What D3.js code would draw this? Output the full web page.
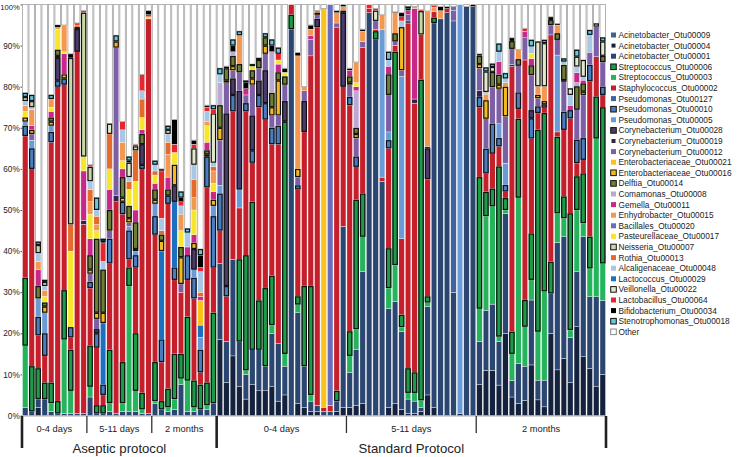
<!DOCTYPE html>
<html><head><meta charset="utf-8">
<script src="https://cdn.jsdelivr.net/npm/d3@7"></script>
<style>body{margin:0;background:#fff}svg{display:block;font-family:"Liberation Sans",Arial,sans-serif}</style>
</head><body><svg id="c" width="745" height="457"></svg>
<script>
// ---- categories ----
const subgroups = ["0-4 days","5-11 days","2 months","0-4 days","5-11 days","2 months"];
const subgroupSizes = [10,10,10,20,20,20];
const protocols = ["Aseptic protocol","Standard Protocol"];
const protocolSizes = [30,60];
const yTicks = [0,10,20,30,40,50,60,70,80,90,100];

// ---- series values (% of reads, 90 samples) ----
const acin09 = [0,0,0,0,0,0,0,0,0,0, 0,0,0,0,0,0,0,0,0,0, 0,0,0,0,0,0,0,0,0,0,
 0,0,0,0,0,0,0,0,0,0, 0,0,0,0,0,0,0,0,0,0, 0,0,0,0,0,0,0,0,0,0,
 0,0,0,0,0,0,0,0,0,0, 0,0,0,0,0,0,0,0,0,0, 0,0,0,0,0,0,0,0,0,0];
const acin04 = [0,0,2,0,0,0,0,0,0,0, 0,0,0,0,0,0,0,0,0,0, 0,0,0,0,0,0,0,0,0,0,
 18.5,8,14.5,7,4,7.5,6,6,7,3.5, 5,0,3,2,1,1,0,0,1,2,
 2,2.5,3,0,0,0,2,3,1.5,0.5, 0.5,1,5,2,0,0,0,0.5,0,0,
 7.5,11,11,7.4,20,4.5,3,3.7,12.3,3.8, 2.1,20,11.1,13.9,8,21.6,14.3,11.5,7,10];
const acin01 = [2,1,2,4,1,0.5,0.5,0.5,0.5,0.5, 4.5,0.5,0.5,1,0.5,1,1,1,0.5,0.5,
 3,1.5,1,1.5,7.5,1,1,1.5,1.5,3,
 18.5,10,23.5,11,6,8.5,10,6,13,14, 7,94,22,10,2.5,1.5,1,1,2.5,44,
 8.5,13.5,32,98,91.5,57,24,24.7,19,3.5, 3,1,21.5,93.5,96.5,98,30,0,99.5,99.5,
 10.5,14.6,16.1,10.6,29.2,4,9.7,8.3,15.8,4.8, 6.5,9.7,31,29.6,11,13.4,29.2,17.4,21.9,18];
const strep06 = [16.5,11,7.5,4,5,3,12,10,0,0, 10,2,2,13,0,10,4.5,14,4,0,
 9.5,2,4.5,11,6,15.5,6.5,6,5.5,22,
 0,0,0,20,28,36,12,19,12,0, 56.5,3.5,2,19.5,26.5,0,0,0,2.5,0,
 6,31.5,10.5,0,2,0,9.7,51.9,3,6, 5,78,1.5,1.3,0,0,0,0,0,0,
 32,5.9,4.3,41.4,2.9,5.4,19.2,6.5,11.3,49.1, 43.4,7.7,18.6,5.3,28.4,8.2,12.1,7.7,10.2,38];
const strep03 = [15,0,0,0,2,0,18,5.5,0,0, 2.5,0,0,2,0,2,30.5,5,1,0,
 0.5,0,1,2.5,1.5,7.5,1,0,1,0,
 0,0,0,0,1,0,0,0,2,0, 3,0,2,0,1.5,0,0,0,0,0,
 4,5,8.5,0,0,0,5,8.9,1,1.5, 2,1.7,1,0,0,0,0,0,0,0,
 8,22.9,23.8,1.2,0.8,6.5,40.3,9.6,4.9,11.8, 21.6,0,7.1,4.5,1.8,15,3.3,6.9,38.5,9];
const staph02 = [34.5,48,8,6.5,58.5,76.5,50,3,88,46, 14,14,2.5,21,51.5,36,2,16,54.5,96,
 31,9.5,45,18,15,9,20,3,47.5,11,
 8,11,36,12.5,35,9.5,47,41,32,48.5, 0,2.5,26,37.5,56,92,1,1.5,88.5,34,
 55,8,35.5,1,0.5,1,24.3,1.5,18.5,84, 65.5,11,28.5,1.5,0,1,0,0,0,0,
 17,4.5,8.5,4.9,1.6,64.5,2.4,58.4,23.1,4.1, 1.3,55.2,1.2,16.2,23.1,3.2,3.3,37.8,9.7,3];
const pseudo127 = [0,0,0,0,0,0,0,0,0,0, 0,0,0,0,0,0,0,0,0,0, 0,0,0,0,0,0,0,0,0,0,
 0,0,0,0,0,0,0,0,0,0, 0,0,0,0,0,0,0,0,0,0, 0,0,0,0,0,0,0,0,0,0,
 0,0,0,0,0,0,66,0,0,0, 0,0,0,0,0,0,0,0,0,0, 0,0,0,0,0,0,0,0,0,0];
const pseudo10 = [2.5,5,4.5,5.5,2.5,1.5,1.5,2.5,0,0, 1.5,3.5,2.5,6,0,3,7,3,1,0,
 4.5,5.5,2,3,0,6,5,5.5,7.5,12.5,
 9,2.5,4,0,2,3,3,4,4,4.5, 0,0,1,0,0,0,0,0,0,0,
 2,2.5,0,0,0,0,2,0,0,0, 0,0,0,0,0,0,0,0,0,0,
 2.5,6,7.3,2,1.6,0,4,0,4.9,1.6, 0.8,0,0,4.4,2,5.7,5.3,4,0,2];
const pseudo05 = [1,2,4.5,5,1.5,0,0,0,0,0, 0,0,0,0,0,0,1,1,0,0, 3,0,0,0,0,0,2,3,0,2.5,
 2,0,0,4.5,0,0,0,0,0,0, 0,0,0,0,0,0,0,0,0,0,
 0,0,0,0,0,36,2,0,39.5,0, 0,0,0,0,0,0,0,99.5,0,0,
 0,0,0,3.5,5.3,0,0,0,0,0, 0,0,18.7,0,0,0,0,0,0,0];
const coryn28 = [0,0,0,0,0,5.5,0,0,5.5,0, 0,1,0,0,0,0,0,0,5,0, 0,0,0,4,0,0,5,0,0,0,
 0,42,4,24,0,8.5,3.5,8,0,0, 5,0,0,7.5,0,2,0,0,0,18,
 0,0,0,0,0,0,0,0,0,0, 0,0,7.5,0,0,0,0,0,0,0,
 0,0,0,0,0,0,0,0,2,0, 0,0,0,0,0,0,0,0,0,0];
const coryn19 = [0,0,0,0,0,0,0,0,0,1, 0,0,0,0,1.5,0,0,0,0,0, 0,0,0,0,0,0,0,0,0,0,
 0,0,0,0,0,0,0,0,0,0, 0,0,0,0,0,0,0,0,0,0,
 0,0,0,0,0,0,0,0,0,0.5, 1,0,0.5,0,0,0,0,0,0,0,
 1.5,0,0,0,0,0.5,0,0,0,0, 0,0,0,0,0,0,0,0,0,0];
const coryn12 = [0,1.5,0,0,0,0,0,0,0,0, 2,2.5,0,2,36,0,1,0,0,0, 0,0,0,0,2,0,0,0,0,0,
 11,7.5,2,4.5,2,7.5,3,4,3,2.5, 4,0,2,2.5,4,1,0,0,1,0,
 3,4.5,1.5,0,2,0,9,1,1.5,1.5, 0,0,0,0,0,0,2.5,0,0,0,
 5.5,7.3,8.9,8.5,11.4,3.8,6.5,5.4,8.5,2, 0,2.4,3.7,7.3,0,7.3,10.5,3.1,7.3,6];
const entero21 = [0,0,0,0,0,0,0,0,0,0, 0,0,0,0,0,0,0,0,0,0, 0,0,0,0,0,0,0,6,0,0,
 0,0,0,0,0,0,0,0,0,0, 0,0,0,0,0,0,97,0,0,0,
 0,0,0,0,0,0,0,0,0,0, 0,0,0,0,0,0,0,0,0,0,
 0,0,0,0,0,0,0,0,0,0, 0,0,0,0,0,0,0,0,0,0];
const entero16 = [1,1,0,1.5,1,0.5,1,0,0.5,0, 1,1.5,2.5,0,1.5,1,1,0.5,0,0, 1,2.5,0,5,6.5,0,1.5,0,0.5,1.5,
 3,0.5,1,0,0,1.5,0,2,2,8.5, 0,0,2,0,0,0.5,0,0,0,0,
 0.5,1,0,0,0,0,0,0,10.5,0, 0,0,0,0,0,0,0,0,0,0,
 1,4.5,0,1,7.2,0,0,0,0,0.8, 0.8,0,0,0.4,0,0,0.8,0,0,0];
const delftia14 = [0,0,3,1,1,1.5,0,0,0,0, 3.5,18,10.5,5,0,5,3,6.5,2.5,0, 2.5,1.5,1.5,0,2.5,0,0,0,1,0,
 5.5,3,2.5,2,0,2,2,2,3.5,2, 2,0,0,0,0,0,0,0,0,0.5,
 1.5,1.5,0,0,0,0,5,2,0,0, 0,0,0,0,0,0,0,0,0,0,
 2,0,3.7,2.4,0,1.9,1.6,0,2.4,0, 0,1.2,1.6,3.7,0,5.7,2,0,0,1.5];
const comam08 = [0,0,0,0,0,0,0,0,0,0, 0,0,0,0,0,0,0,0,0,0, 0,0,0,0,0,0,0,0,0,0,
 5.5,0,1,0,0,0,0,0,10,0, 0,0,0,0,0,0,0,0,0,0,
 0,9,0,0,0,0,0,0,0,0, 0,0,0,0,0,0,0,0,0,0,
 0,0,0,0,0,0,0,0,0,0, 0,0,0,0,0,0.9,0,0,0,0];
const gemella11 = [0,1,4,0,1.5,0,5,0,0,12, 4,0,0,5,0,2,0,3,1,0, 1.5,0,3,0,0,2,2,1,2,2,
 0,0,0,0,1.5,0,0,0,0,2, 0,0,0,0,1,0,0,0,0,0,
 1.5,1,0,0,0,0,2,0,0,1, 22,0,0,0,0,0,0,0,0,0,
 0,0,0,3.2,0,0,0,1.6,1.6,0, 0,0,0,0,1.2,2.4,0.8,0,0,0];
const enhydro15 = [1.5,4,2,1.5,2,0.5,6.5,0,0,0, 3,1.5,0,0,0,4.5,0,0,0,0, 0,0,5.5,0,4,0,3,0,1,3,
 0,0,0,7,0,0,0,0,0,0, 0,0,27.5,1,1.5,0,0,0,2.5,1,
 0,5,2.5,0,0,3.5,0,5,0,0, 0.5,0,32.9,1,2,0,0,0,0,0,
 0,1.5,0,0,1,0,2.3,0,0,2.1, 3.6,0,2,0,0,0,0,0,0,0];
const bacill20 = [0,0,0,0,0,0,0,0,0,0, 0,0,0,0,0,0,0,0,0,0, 0,0,0,0,0,0,0,0,0,0,
 0,0,0,0,0,0,0,0,0,0, 0,0,0,0,0,0,0,97.5,0,0,
 0,0,0,0,0,0,0,0,0,0, 0,0,0,0,0,0,1,0,0,0,
 0,0,0,0,0,0,0,0,0,0, 0,0,0,0,0,0,0,0,0,0];
const pasteur17 = [1.5,0,0,1.5,1,5,0.5,18.5,0,3.5, 6,2,0,5,0,2,4,7,3,0.5, 2,0,0,3,4,0,6,0,4,2,
 0,0,0,0,0,1,0,0,0,1, 1,0,0,0,0,0,0,0,0,0,
 0,1,0,0,0,0,0,0,0,0, 0,0,0,0,0,0,0,0,0,0,
 0,0,0,0,0,0,0,0,1.3,0, 0,0,0,0,0,0,0,0,0,0];
const neisser07 = [1,1.5,2,1,0,0,0,40.5,0,35, 3.5,0,0,0,0,0,0,1,0,0, 0,0,0,0,0,0,0,0,0,0,
 0,0,0,0,0,0,0,0,0,0, 0,0,0,0,0,0,0,0,0,0,
 0,0,0,0,0,0,0,0,0,0, 0,5.7,0,0,0,0,0,0,0,0,
 0,0,0,0,0,0,0,0,0,0, 0,0,0,0,0,0,0,0,0,0];
const rothia13 = [0,0,0,0,0,0,0,6.5,0.5,0, 3,2,0,8.5,0,0,2,7.5,4.5,0, 1,1,3,0,0,0,4.5,1,0,1,
 0,0,0,0,0,0,0,0,0,0, 0,0,0,0,0,0.5,0,0,0,0,
 0,0,0,0,0,0,0,0,0,0, 0,0,0,0,0,0,0,0,0,0,
 0,0,0,0,0,0,0,0,0,0, 0,0,0,0,0,0,0,0,0,0];
const alcal48 = [1,0.5,2,1,0,0,0,0,0,0, 2,1.5,2,0,0,3,1,0,2,0, 1.5,3,2,0,2,3.5,3.5,5,2.5,1,
 2,0,0,0,0,0,0,0,0,0, 0,0,0,0,0,0,0,0,0,0,
 0,0,0,0,0,0,1.5,0,1.5,0, 0,0,0,0,0,0,0,0,0,0,
 0,0.5,0,2.4,1,0,0,0,1.7,0, 0,0,0,0.8,2.5,1.5,0.8,4.2,0,0];
const lacto29 = [0,0,0,0,0,0,0,0,0,0, 0,0,15,0,0,0,0,0,0,0, 0,21.5,0,16,0,0,0,3,0,0,
 0,0,0,0,0,0,0,0,0,0, 0,0,0,0,0,0,0,0,0,0,
 0,0,0,0,0,0,0,0,0,0, 0,0,0,0,0,0,0,0,0,0,
 0,0,0,0,0,0,0,0,0,0, 0,0,0,0,0,0,0,0,0,0];
const veillon22 = [0,0,0,0,0,0,0,0,0,0, 0,0,0,2.5,0,0,3.5,0,0,0, 0,0,1,0,0,0,4,0,0,12,
 0,0,0,0,0,0,0,0,0,0, 0,0,0,0,0,0,0,0,0,0,
 0,0,0,0,2.5,0,0,0,0,0, 0,0,0,0,0,0,0,0,0,0,
 0,5,1.2,0,0,0,0,0,0,10.9, 10.5,0,0,0,1.6,2.4,4.1,0,0.8,3.5];
const lactob64 = [0,0,0,0,0,0,0,0,0.5,0.5, 0.5,0,4.5,0,0,2,0,0.5,4,0.5, 0,11.5,0,2,1,0,1,1,1,1,
 0,0,0,0,0,0,0,0,0,1.5, 0,0,0,0,0,0,0,0,0,0,
 0,0,0,1,0.5,0,0,0,1,0, 0,0.3,0,0.5,0,0,0,0,0,0,
 0,0,0,0,0,0,0,0.7,0,0, 0,0,0,0,0,0,0,0,0,0];
const bifido34 = [0,0,0,0,0,0,0,1,0,0, 0,0,0.5,0,0,0,0.5,0,0,1, 0,0.5,0,6,1,0,1,3,0.5,0,
 0,0.5,1.5,0,1.5,0,0,0,1.5,0, 1,0,0.8,0,1,0,0,0,0.5,0.5,
 0.5,0,0.5,0,0,0,0,0.2,1,0.5, 0,0,0,0,1,0.5,0,0,0,0.5,
 0.5,0,0,0,0,0.8,0,0,0,0, 0,0.8,0.4,0,0,0,0,0,0,0];
const steno18 = [1,1.5,0.8,0.5,1,0.5,0,0,0,0, 0,3,0.5,0,1.5,0,1,0,0,0, 1,0,1,0,1.5,1,0,1.5,0,1,
 1.5,0,1.5,1,0.5,0.5,0.5,1,1.5,1.5, 0,0,0,0,0,0,0,0,0,0,
 0,0,0,0,0,0,2,0,0,0.5, 0,0,0,0,0,0,0,0,0,0,
 0,1,0.8,2,1.3,0,0,0,1.6,0, 0.8,0,0,0.8,0,1.7,0,1.2,0,1];

// ---- series table (legend order) ----
const seriesDefs = [
 {key:"acin09", label:"Acinetobacter_Otu00009", color:"#3d6294", out:false, v:acin09},
 {key:"acin04", label:"Acinetobacter_Otu00004", color:"#15223e", out:false, v:acin04, small:true},
 {key:"acin01", label:"Acinetobacter_Otu00001", color:"#2b4670", out:false, v:acin01},
 {key:"strep06", label:"Streptococcus_Otu00006", color:"#1c9c48", out:true, v:strep06},
 {key:"strep03", label:"Streptococcus_Otu00003", color:"#25b45c", out:false, v:strep03},
 {key:"staph02", label:"Staphylococcus_Otu00002", color:"#c41f2b", out:false, v:staph02},
 {key:"pseudo127", label:"Pseudomonas_Otu00127", color:"#3f63a0", out:false, v:pseudo127},
 {key:"pseudo10", label:"Pseudomonas_Otu00010", color:"#4a7cc0", out:true, v:pseudo10},
 {key:"pseudo05", label:"Pseudomonas_Otu00005", color:"#6a9bd6", out:false, v:pseudo05},
 {key:"coryn28", label:"Corynebacterium_Otu00028", color:"#4b3b6b", out:true, v:coryn28},
 {key:"coryn19", label:"Corynebacterium_Otu00019", color:"#2e2545", out:false, v:coryn19, small:true},
 {key:"coryn12", label:"Corynebacterium_Otu00012", color:"#7d5fa6", out:false, v:coryn12},
 {key:"entero21", label:"Enterobacteriaceae_Otu00021", color:"#f9c31c", out:false, v:entero21},
 {key:"entero16", label:"Enterobacteriaceae_Otu00016", color:"#f6b820", out:true, v:entero16},
 {key:"delftia14", label:"Delftia_Otu00014", color:"#6e7f35", out:true, v:delftia14},
 {key:"comam08", label:"Comamonas_Otu00008", color:"#b9a9d3", out:false, v:comam08},
 {key:"gemella11", label:"Gemella_Otu00011", color:"#c8288a", out:false, v:gemella11},
 {key:"enhydro15", label:"Enhydrobacter_Otu00015", color:"#f29850", out:false, v:enhydro15},
 {key:"bacill20", label:"Bacillales_Otu00020", color:"#6a6cbc", out:false, v:bacill20},
 {key:"pasteur17", label:"Pasteurellaceae_Otu00017", color:"#f7e62b", out:false, v:pasteur17},
 {key:"neisser07", label:"Neisseria_Otu00007", color:"#c7d7a6", out:true, v:neisser07},
 {key:"rothia13", label:"Rothia_Otu00013", color:"#e56b2a", out:false, v:rothia13},
 {key:"alcal48", label:"Alcaligenaceae_Otu00048", color:"#a8c6e6", out:false, v:alcal48},
 {key:"lacto29", label:"Lactococcus_Otu00029", color:"#1d6fc0", out:false, v:lacto29},
 {key:"veillon22", label:"Veillonella_Otu00022", color:"#e2e8cc", out:true, v:veillon22},
 {key:"lactob64", label:"Lactobacillus_Otu00064", color:"#e5262f", out:false, v:lactob64},
 {key:"bifido34", label:"Bifidobacterium_Otu00034", color:"#000000", out:false, v:bifido34},
 {key:"steno18", label:"Stenotrophomonas_Otu00018", color:"#68c6df", out:true, v:steno18}
];
// stacking order, bottom -> top
const stackOrder = ["acin09","acin04","acin01","strep03","strep06","staph02","pseudo127","pseudo10",
 "pseudo05","lacto29","coryn28","coryn19","coryn12","bacill20","entero21","entero16","delftia14",
 "comam08","gemella11","pasteur17","enhydro15","rothia13","alcal48","neisser07","veillon22",
 "lactob64","bifido34","steno18","other"];

const N = 90;
const byKey = {};
seriesDefs.forEach(s => byKey[s.key] = s);
byKey.other = {key:"other", label:"Other", color:"#ffffff", out:false, other:true};

const rows = d3.range(N).map(i => {
  const r = {i};
  let s = 0;
  seriesDefs.forEach(d => { r[d.key] = d.v[i]; s += d.v[i]; });
  r.other = Math.max(0, 100 - s);
  return r;
});

const svg = d3.select("#c");
const x = d3.scaleBand().domain(d3.range(N)).range([22, 606]).paddingInner(0);
const y = d3.scaleLinear().domain([0,100]).range([415.5, 4.5]);
const bw = x.bandwidth();

const stacked = d3.stack().keys(stackOrder)(rows);

const gBars = svg.append("g");
// fill pass
stacked.forEach(layer => {
  const def = byKey[layer.key];
  gBars.selectAll(null).data(layer.filter(d => d[1] - d[0] > 0)).enter().append("rect")
    .attr("x", d => x(d.data.i) + 0.5)
    .attr("width", bw - 1)
    .attr("y", d => y(d[1]))
    .attr("height", d => Math.max(0.3, y(d[0]) - y(d[1])))
    .attr("fill", def.color)
    .attr("stroke", def.other ? "#a2a2a2" : (def.out ? "none" : "#ffffff"))
    .attr("stroke-width", def.other ? 0.8 : 0.35);
});
// outline pass
stacked.forEach(layer => {
  const def = byKey[layer.key];
  if (!def.out) return;
  gBars.selectAll(null).data(layer.filter(d => d[1] - d[0] > 0)).enter().append("rect")
    .attr("x", d => x(d.data.i) + 1.1)
    .attr("width", bw - 2.2)
    .attr("y", d => y(d[1]) + 0.6)
    .attr("height", d => Math.max(0.2, y(d[0]) - y(d[1]) - 1.2))
    .attr("fill", def.color)
    .attr("stroke", "#111")
    .attr("stroke-width", 1.2);
});

// y axis
const yAxis = d3.axisLeft(y).tickValues(yTicks).tickFormat(d => d + "%").tickSize(1.5).tickPadding(0.8);
const gy = svg.append("g").attr("transform", "translate(22,0)").call(yAxis);
gy.select(".domain").remove();
gy.selectAll("text").attr("font-size", d => d === 100 ? 7.6 : 8.2).attr("fill", "#222")
  .attr("font-family", "Liberation Sans, Arial, sans-serif")
  .attr("dy", d => d === 100 ? "0.7em" : "0.32em");
gy.selectAll("line").attr("stroke", "#555");

// x axis baseline
svg.append("line").attr("x1", 22).attr("x2", 606).attr("y1", 416).attr("y2", 416).attr("stroke", "#777").attr("stroke-width", 0.6);

// subgroup separators and labels
let idx = 0;
const bounds = [0];
subgroupSizes.forEach(n => { idx += n; bounds.push(idx); });
const edge = i => i < N ? x(i) : x(N - 1) + bw;
const majorBounds = [0, 30, 90];
bounds.forEach(b => {
  const major = majorBounds.includes(b);
  svg.append("line")
    .attr("x1", edge(b)).attr("x2", edge(b))
    .attr("y1", 416).attr("y2", major ? 448 : 433)
    .attr("stroke", major ? "#222" : "#333")
    .attr("stroke-width", major ? 2.6 : 1.3);
});
subgroups.forEach((lab, k) => {
  const cx = (edge(bounds[k]) + edge(bounds[k + 1])) / 2;
  svg.append("text").attr("x", cx).attr("y", 431.5).attr("text-anchor", "middle")
    .attr("font-size", 9.3).attr("fill", "#222").text(lab);
});
let pStart = 0;
protocols.forEach((lab, k) => {
  const pEnd = pStart + protocolSizes[k];
  const cx = (edge(pStart) + edge(pEnd)) / 2;
  svg.append("text").attr("x", cx).attr("y", 453).attr("text-anchor", "middle")
    .attr("font-size", 13.2).attr("fill", "#222").text(lab);
  pStart = pEnd;
});

// legend
const legendItems = seriesDefs.concat([byKey.other]);
const lg = svg.append("g");
legendItems.forEach((d, k) => {
  const cy = 35 + 10.6 * k;
  const s = d.out || d.other ? 5.6 : (d.small ? 4 : 5);
  lg.append("rect").attr("x", 613.5 - s / 2).attr("y", cy - s / 2).attr("width", s).attr("height", s)
    .attr("fill", d.color)
    .attr("stroke", d.out ? "#111" : (d.other ? "#888" : "none"))
    .attr("stroke-width", d.out || d.other ? 1 : 0);
  lg.append("text").attr("x", 618.5).attr("y", cy).attr("dy", "0.35em")
    .attr("font-size", 8.3).attr("fill", "#222").text(d.label);
});
</script></body></html>
